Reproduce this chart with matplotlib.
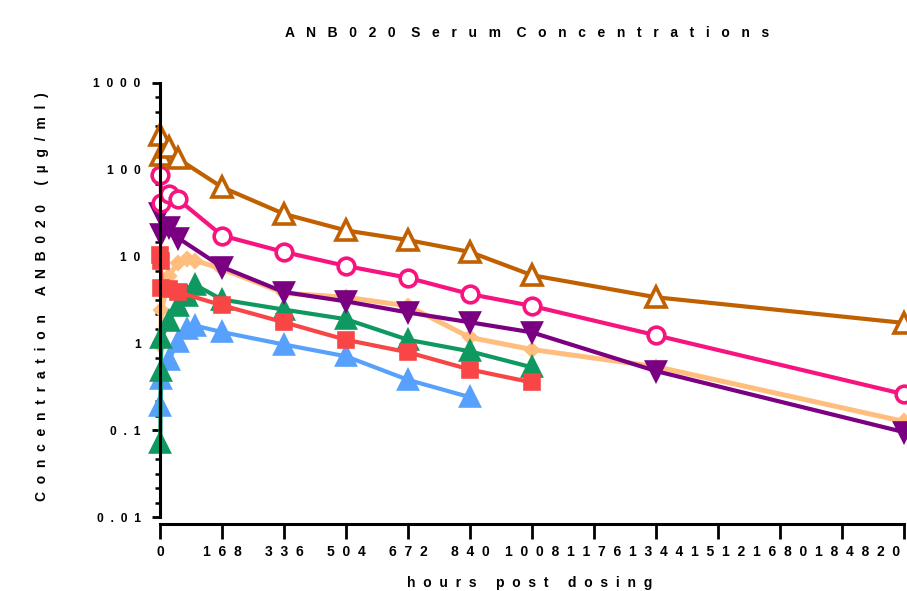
import matplotlib.pyplot as plt
from matplotlib.ticker import FixedLocator, NullFormatter

plt.rcParams['font.family'] = ['Liberation Sans', 'DejaVu Sans']
plt.rcParams['font.weight'] = 'bold'

# hours post dosing / concentration (ug/ml)
t_brown = [1, 4, 24, 48, 168, 336, 504, 672, 840, 1008, 1344, 2016]
c_brown = [255, 150, 185, 135, 63, 31, 20, 15.5, 11.3, 6.1, 3.4, 1.72]

t_pink = [1, 4, 24, 48, 168, 336, 504, 672, 840, 1008, 1344, 2016]
c_pink = [88, 41, 52, 46, 17.5, 11.3, 7.8, 5.7, 3.7, 2.7, 1.24, 0.26]

t_purple = [1, 4, 24, 48, 168, 336, 504, 672, 840, 1008, 1344, 2016]
c_purple = [32, 18, 22, 16.5, 7.6, 3.9, 3.05, 2.27, 1.75, 1.34, 0.48, 0.095]

t_peach = [1, 4, 24, 48, 72, 96, 168, 336, 504, 672, 840, 1008, 1344, 2016]
c_peach = [0.95, 2.4, 6.0, 8.5, 9.3, 9.0, 7.2, 3.8, 3.4, 2.7, 1.17, 0.85, 0.54, 0.126]

t_green = [1, 2, 4, 24, 48, 72, 96, 168, 336, 504, 672, 840, 1008]
c_green = [0.072, 0.48, 1.15, 1.8, 2.7, 3.5, 4.7, 3.2, 2.45, 1.9, 1.1, 0.81, 0.53]

t_red = [1, 2, 4, 24, 48, 168, 336, 504, 672, 840, 1008]
c_red = [10.5, 8.8, 4.4, 4.2, 3.9, 2.75, 1.75, 1.1, 0.79, 0.5, 0.355]

t_blue = [1, 4, 24, 48, 72, 96, 168, 336, 504, 672, 840]
c_blue = [0.19, 0.39, 0.64, 1.05, 1.45, 1.6, 1.35, 0.97, 0.71, 0.38, 0.24]

x_ticks = list(range(0, 2017, 168))
y_ticks = [0.01, 0.1, 1, 10, 100, 1000]
y_tick_labels = ['0.01', '0.1', '1', '10', '100', '1000']


def spaced(s, gap=2, word=5):
    # GraphPad-style wide letter spacing
    return (' ' * word).join((' ' * gap).join(w) for w in s.split(' '))


fig = plt.figure(figsize=(9.07, 5.91), dpi=100)
ax = fig.add_axes([160 / 907, 1 - 517 / 591, (904 - 160) / 907, (517 - 83) / 591])

series = [
    (t_peach, c_peach, '#FFBE7D', 'D', 6, '#FFBE7D', 3.6),
    (t_blue, c_blue, '#57A1FC', '^', 13, '#57A1FC', 3),
    (t_green, c_green, '#0F9960', '^', 13, '#0F9960', 3),
    (t_red, c_red, '#F84545', 's', 10.5, '#F84545', 3),
    (t_purple, c_purple, '#7B0081', 'v', 13, '#7B0081', 3),
    (t_pink, c_pink, '#F7147F', 'o', 12, 'white', 3),
    (t_brown, c_brown, '#C06000', '^', 14, 'white', 3),
]
for t, c, col, mk, ms, fc, lw in series:
    ax.plot(t, c, color=col, lw=lw, marker=mk, markersize=ms,
            markerfacecolor=fc, markeredgecolor=col, markeredgewidth=2.6,
            clip_on=False)

ax.set_yscale('log')
ax.set_ylim(0.01, 1000)
ax.set_xlim(0, 2016)

ax.set_xticks(x_ticks)
ax.set_xticklabels([spaced(str(x)) for x in x_ticks], fontsize=9.5, fontweight='bold')
ax.set_yticks(y_ticks)
ax.set_yticklabels([spaced(s) for s in y_tick_labels], fontsize=8.7, fontweight='bold')
# five evenly spaced minor ticks per decade, as Prism draws them
ax.yaxis.set_minor_locator(FixedLocator([10.0 ** (e + k / 6) for e in range(-2, 3) for k in range(1, 6)]))
ax.yaxis.set_minor_formatter(NullFormatter())

for side in ['top', 'right']:
    ax.spines[side].set_visible(False)
ax.spines['left'].set_linewidth(2.2)
ax.spines['bottom'].set_linewidth(2.2)
ax.spines['bottom'].set_position(('outward', 5))
ax.tick_params(axis='x', which='major', direction='out', length=11, width=2, pad=4)
ax.tick_params(axis='y', which='major', direction='out', length=6, width=2, pad=8)
ax.tick_params(axis='y', which='minor', direction='out', length=3.5, width=1.8)

fig.text(0.581, 1 - 33 / 591, spaced('ANB020 Serum Concentrations', gap=3, word=4),
         ha='center', va='center', fontsize=10, fontweight='bold')
fig.text(42 / 907, 1 - 297 / 591, spaced('Concentration ANB020 (\u00b5g/ml)'),
         rotation=90, ha='center', va='center', fontsize=10, fontweight='bold')
fig.text(530 / 907, 0.002, spaced('hours post dosing'),
         ha='center', va='bottom', fontsize=10, fontweight='bold')

plt.savefig('out.png', dpi=100)
